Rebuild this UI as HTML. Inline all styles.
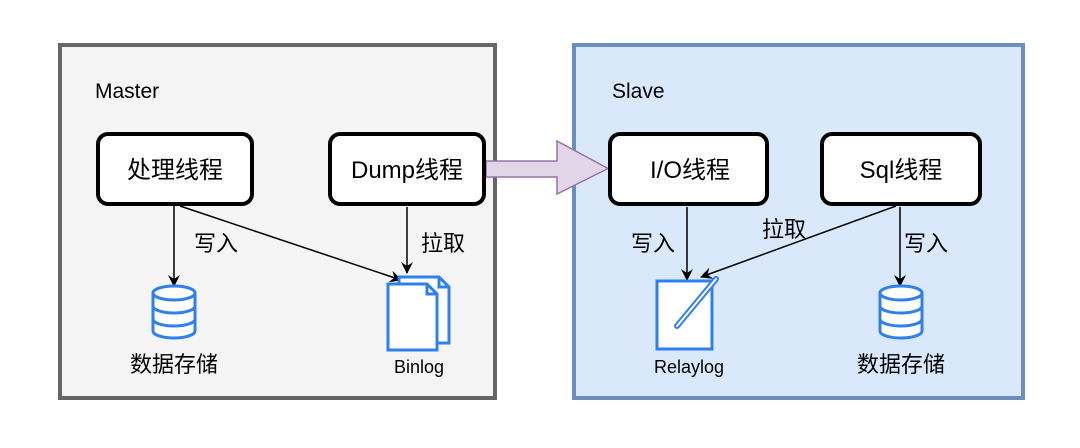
<!DOCTYPE html>
<html><head><meta charset="utf-8"><style>
html,body{margin:0;padding:0;background:#fff;}
svg text{font-family:"Liberation Sans","Noto Sans CJK SC",sans-serif;fill:#000;}
</style></head><body>
<svg width="1080" height="443" viewBox="0 0 1080 443" xmlns="http://www.w3.org/2000/svg">
<defs>
<marker id="ah" markerWidth="12" markerHeight="12" refX="11" refY="6" orient="auto" markerUnits="userSpaceOnUse">
<path d="M0,0 L12,6 L0,12 L4,6 Z" fill="#000"/>
</marker>
</defs>
<rect x="60" y="45" width="435" height="353" fill="#f5f5f5" stroke="#666" stroke-width="4"/>
<rect x="574" y="45" width="449" height="353" fill="#dae8fc" stroke="#6c8ebf" stroke-width="4"/>
<text x="95" y="98" font-size="21">Master</text>
<text x="612" y="98" font-size="21">Slave</text>
<path d="M486,161 L557,161 L557,141 L608,168.5 L557,194 L557,177 L486,177 Z" fill="#e1d5e7" stroke="#9673a6" stroke-width="1.5"/>
<rect x="98" y="134" width="154" height="70" rx="10" fill="#fff" stroke="#000" stroke-width="4"/>
<rect x="330" y="134" width="154" height="70" rx="10" fill="#fff" stroke="#000" stroke-width="4"/>
<rect x="610" y="134" width="157" height="70" rx="10" fill="#fff" stroke="#000" stroke-width="4"/>
<rect x="822" y="134" width="158" height="70" rx="10" fill="#fff" stroke="#000" stroke-width="4"/>
<text x="175" y="178" font-size="24" text-anchor="middle">处理线程</text>
<text x="407" y="178" font-size="24" text-anchor="middle">Dump线程</text>
<text x="690" y="178" font-size="24" text-anchor="middle">I/O线程</text>
<text x="901" y="178" font-size="24" text-anchor="middle">Sql线程</text>
<g stroke="#000" stroke-width="1.5" fill="none">
<line x1="174" y1="206" x2="174" y2="286" marker-end="url(#ah)"/>
<line x1="180" y1="206" x2="401" y2="280" marker-end="url(#ah)"/>
<line x1="407" y1="207" x2="407" y2="273" marker-end="url(#ah)"/>
<line x1="687" y1="207" x2="687" y2="280" marker-end="url(#ah)"/>
<line x1="896" y1="206" x2="701" y2="277" marker-end="url(#ah)"/>
<line x1="900" y1="207" x2="900" y2="286" marker-end="url(#ah)"/>
</g>
<text x="194" y="251" font-size="22">写入</text>
<text x="421" y="251" font-size="22">拉取</text>
<text x="631" y="251" font-size="22">写入</text>
<text x="762" y="237" font-size="22">拉取</text>
<text x="904" y="251" font-size="22">写入</text>
<g fill="#fff" stroke="#2f80ed" stroke-width="3">
<g transform="translate(174,0)">
<path d="M-21,293 L-21,331 A21,7 0 0 0 21,331 L21,293 Z"/>
<ellipse cx="0" cy="293" rx="21" ry="7"/>
<path d="M-21,306 A21,7 0 0 0 21,306 M-21,319 A21,7 0 0 0 21,319" fill="none"/>
</g>
<g transform="translate(901,0)">
<path d="M-21,293 L-21,331 A21,7 0 0 0 21,331 L21,293 Z"/>
<ellipse cx="0" cy="293" rx="21" ry="7"/>
<path d="M-21,306 A21,7 0 0 0 21,306 M-21,319 A21,7 0 0 0 21,319" fill="none"/>
</g>
<path d="M399,277 L439,277 L449,287 L449,343 L399,343 Z"/>
<path d="M388,284 L427,284 L437,294 L437,350 L388,350 Z"/>
<path d="M427,284 L427,294 L437,294" fill="none"/>
<path d="M439,277 L439,287 L449,287" fill="none"/>
<rect x="657" y="281" width="55" height="68"/>
</g>
<line x1="677" y1="326" x2="716" y2="279" stroke="#2f80ed" stroke-width="6" stroke-linecap="round"/>
<line x1="677" y1="326" x2="716" y2="279" stroke="#fff" stroke-width="2" stroke-linecap="round"/>
<text x="174" y="372" font-size="22" text-anchor="middle">数据存储</text>
<text x="901" y="372" font-size="22" text-anchor="middle">数据存储</text>
<text x="419" y="373" font-size="18" text-anchor="middle">Binlog</text>
<text x="689" y="373" font-size="18" text-anchor="middle">Relaylog</text>
</svg>
</body></html>
